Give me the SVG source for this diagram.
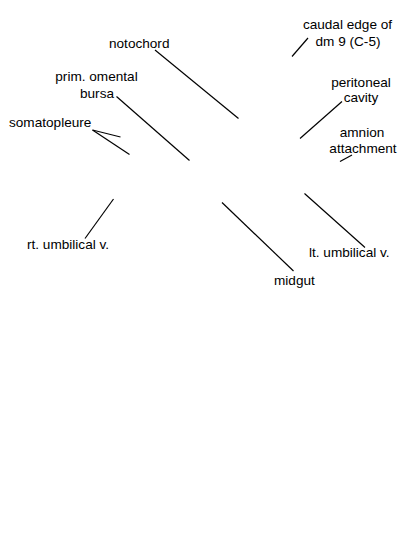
<svg xmlns="http://www.w3.org/2000/svg" width="400" height="550" viewBox="0 0 400 550">
<style>
text{font-family:"Liberation Sans",Arial,sans-serif;font-size:13.6px;fill:#000}
.m{text-anchor:middle}
line{stroke:#000;stroke-width:1.2;fill:none}
</style>
<rect width="400" height="550" fill="#fff"/>
<g id="connectors">
<line x1="155" y1="50" x2="238.5" y2="118.5"/>
<line x1="116.5" y1="96.5" x2="189.5" y2="160.5"/>
<line x1="92.5" y1="130" x2="120.5" y2="137"/>
<line x1="92.5" y1="130" x2="129.5" y2="154.5"/>
<line x1="308" y1="38" x2="292" y2="56.5"/>
<line x1="342" y1="101.5" x2="300" y2="138.5"/>
<line x1="352" y1="155" x2="340" y2="161.5"/>
<line x1="113.5" y1="199" x2="85" y2="238.5"/>
<line x1="304.5" y1="193.5" x2="365" y2="247.5"/>
<line x1="222" y1="202.5" x2="293.5" y2="271"/>
</g>
<g id="notochord"><text x="109" y="48">notochord</text></g>
<g id="prim-omental-bursa"><text class="m" x="96.5" y="81">prim. omental</text><text class="m" x="97" y="98">bursa</text></g>
<g id="somatopleure"><text x="9" y="127">somatopleure</text></g>
<g id="caudal-edge"><text class="m" x="347.5" y="28.5">caudal edge of</text><text class="m" x="348" y="45.5">dm 9 (C-5)</text></g>
<g id="peritoneal-cavity"><text class="m" x="361" y="87">peritoneal</text><text class="m" x="361" y="102">cavity</text></g>
<g id="amnion-attachment"><text class="m" x="362" y="137">amnion</text><text class="m" x="363" y="152.5">attachment</text></g>
<g id="rt-umbilical"><text x="27" y="249">rt. umbilical v.</text></g>
<g id="lt-umbilical"><text x="309" y="257">lt. umbilical v.</text></g>
<g id="midgut"><text x="274" y="285">midgut</text></g>
</svg>
